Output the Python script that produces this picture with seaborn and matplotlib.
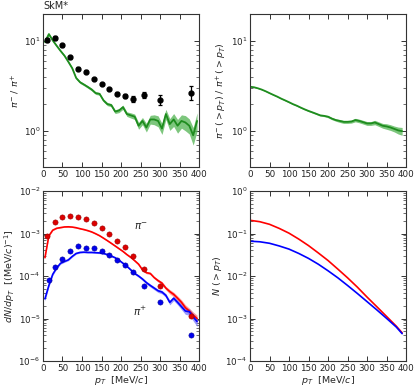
import numpy as np
import matplotlib
matplotlib.use("Agg")
import matplotlib.pyplot as plt
from matplotlib.ticker import LogLocator, NullFormatter
import seaborn as sns

# ---- data ----
# measured pi-/pi+ ratio
data_pt = [10, 30, 50, 70, 90, 110, 130, 150, 170, 190, 210, 230, 260, 300, 380]
data_ratio = [10.3, 10.9, 9.05, 6.63, 4.95, 4.59, 3.79, 3.34, 2.94, 2.62, 2.47, 2.27, 2.51, 2.23, 2.69]
data_ratio_err = [0.6, 0.5, 0.35, 0.25, 0.2, 0.15, 0.12, 0.12, 0.1, 0.1, 0.12, 0.18, 0.2, 0.3, 0.45]

# simulated pi-/pi+ ratio (10 MeV/c bins)
sim_pt = [5, 15, 25, 35, 45, 55, 65, 75, 85, 95, 105, 115, 125, 135, 145, 155, 165, 175, 185, 195,
          205, 215, 225, 235, 245, 255, 265, 275, 285, 295, 305, 315, 325, 335, 345, 355, 365, 375, 385, 395]
sim_ratio = [9.8, 12.0, 10.2, 8.9, 7.8, 6.9, 5.9, 5.0, 3.9, 3.5, 3.3, 3.1, 2.9, 2.65, 2.6, 2.2, 2.0, 1.95, 1.65, 1.7,
             1.85, 1.55, 1.5, 1.45, 1.15, 1.3, 1.1, 1.35, 1.35, 1.3, 1.07, 1.55, 1.2, 1.35, 1.15, 1.3, 1.25, 1.15, 0.9, 1.3]
sim_ratio_err = [0.3, 0.4, 0.3, 0.25, 0.22, 0.2, 0.17, 0.15, 0.12, 0.11, 0.1, 0.1, 0.1, 0.09, 0.09, 0.08, 0.08, 0.08, 0.08, 0.09,
                 0.1, 0.09, 0.1, 0.1, 0.1, 0.12, 0.12, 0.15, 0.17, 0.18, 0.15, 0.2, 0.18, 0.22, 0.2, 0.22, 0.24, 0.22, 0.2, 0.3]

# cumulative ratio pi-(>pT)/pi+(>pT)
cum_pt = list(range(0, 400, 10))
cum_ratio = [3.12, 3.08, 3.0, 2.9, 2.78, 2.65, 2.53, 2.42, 2.3, 2.2, 2.1, 2.0, 1.92, 1.83, 1.75, 1.68, 1.62, 1.56, 1.5, 1.48,
             1.45, 1.38, 1.33, 1.3, 1.27, 1.27, 1.28, 1.33, 1.3, 1.26, 1.22, 1.22, 1.25, 1.2, 1.15, 1.13, 1.1, 1.06, 1.02, 1.0]
cum_ratio_err = [0.03, 0.03, 0.03, 0.03, 0.03, 0.03, 0.03, 0.03, 0.03, 0.03, 0.03, 0.03, 0.03, 0.03, 0.03, 0.03, 0.03, 0.03, 0.03, 0.03,
                 0.04, 0.04, 0.04, 0.05, 0.05, 0.05, 0.05, 0.06, 0.06, 0.06, 0.06, 0.06, 0.07, 0.07, 0.07, 0.08, 0.08, 0.08, 0.09, 0.1]

# measured spectra dN/dpT
pim_data_pt = [10, 30, 50, 70, 90, 110, 130, 150, 170, 190, 210, 230, 260, 300, 380]
pim_data = [8.8e-4, 1.86e-3, 2.47e-3, 2.65e-3, 2.42e-3, 2.14e-3, 1.79e-3, 1.38e-3, 9.6e-4, 6.5e-4, 4.7e-4, 2.9e-4, 1.5e-4, 5.9e-5, 1.15e-5]
pip_data_pt = [15, 30, 50, 70, 90, 110, 130, 150, 170, 190, 210, 230, 260, 300, 380]
pip_data = [8.1e-5, 1.64e-4, 2.55e-4, 3.78e-4, 5.0e-4, 4.5e-4, 4.6e-4, 3.85e-4, 3.17e-4, 2.43e-4, 1.86e-4, 1.22e-4, 5.9e-5, 2.5e-5, 4.1e-6]

# simulated spectra dN/dpT
pim_sim = [2.7e-4, 8.8e-4, 1.2e-3, 1.33e-3, 1.38e-3, 1.43e-3, 1.44e-3, 1.42e-3, 1.37e-3, 1.3e-3, 1.24e-3, 1.17e-3, 1.09e-3, 9.9e-4,
           8.9e-4, 7.8e-4, 6.8e-4, 5.9e-4, 5.1e-4, 4.4e-4, 3.8e-4, 3.2e-4, 2.75e-4, 2.3e-4, 1.9e-4, 1.4e-4, 1.2e-4, 1.15e-4,
           9.2e-5, 7.8e-5, 6.8e-5, 5.2e-5, 4.3e-5, 3.7e-5, 3.0e-5, 2.4e-5, 1.8e-5, 1.5e-5, 1.2e-5, 1.0e-5]
pip_sim = [2.9e-5, 6.0e-5, 1.1e-4, 1.55e-4, 2.0e-4, 2.2e-4, 2.4e-4, 2.9e-4, 3.4e-4, 3.6e-4, 3.65e-4, 3.6e-4, 3.6e-4, 3.55e-4,
           3.5e-4, 3.4e-4, 3.2e-4, 2.95e-4, 2.7e-4, 2.35e-4, 2.0e-4, 1.7e-4, 1.4e-4, 1.15e-4, 1.0e-4, 8.5e-5, 7.0e-5, 6.0e-5,
           5.2e-5, 4.5e-5, 4.2e-5, 3.5e-5, 2.4e-5, 3.0e-5, 2.4e-5, 1.9e-5, 1.5e-5, 1.45e-5, 1.1e-5, 8.5e-6]
pim_sim_err = [1e-5, 3e-5, 3e-5, 3e-5, 3e-5, 3e-5, 3e-5, 3e-5, 3e-5, 3e-5, 3e-5, 3e-5, 3e-5, 3e-5,
               2.5e-5, 2.5e-5, 2e-5, 2e-5, 2e-5, 1.5e-5, 1.5e-5, 1.3e-5, 1.2e-5, 1.1e-5, 1e-5, 8e-6, 7e-6, 7e-6,
               6e-6, 6e-6, 6e-6, 5e-6, 5e-6, 4.5e-6, 4e-6, 3.5e-6, 3e-6, 2.5e-6, 2.2e-6, 2e-6]
pip_sim_err = [3e-6, 5e-6, 7e-6, 8e-6, 1e-5, 1e-5, 1e-5, 1.2e-5, 1.3e-5, 1.4e-5, 1.4e-5, 1.4e-5, 1.4e-5, 1.4e-5,
               1.4e-5, 1.4e-5, 1.3e-5, 1.3e-5, 1.2e-5, 1.1e-5, 1.0e-5, 9e-6, 8e-6, 7e-6, 6.5e-6, 6e-6, 5.5e-6, 5e-6,
               4.5e-6, 4e-6, 4e-6, 3.5e-6, 3e-6, 3.5e-6, 3e-6, 2.8e-6, 2.5e-6, 2.5e-6, 2.2e-6, 2e-6]

# cumulative spectra N(>pT)
ncum_pt = [0, 25, 50, 75, 100, 125, 150, 175, 200, 225, 250, 275, 300, 325, 350, 375, 390]
pim_cum = [0.205, 0.19, 0.165, 0.132, 0.102, 0.074, 0.052, 0.035, 0.0232, 0.0146, 0.0091, 0.0055, 0.0032, 0.0019, 0.00112, 0.00066, 0.00046]
pip_cum = [0.066, 0.064, 0.059, 0.051, 0.043, 0.034, 0.026, 0.019, 0.0133, 0.0091, 0.0060, 0.0039, 0.0025, 0.0016, 0.00101, 0.00063, 0.00044]

# ---- style ----
sns.set_style("ticks")
plt.rcParams['font.family'] = ['DejaVu Sans']
plt.rcParams.update({
    'xtick.direction': 'in', 'ytick.direction': 'in',
    'xtick.top': True, 'ytick.right': True,
    'xtick.labelsize': 6.3, 'ytick.labelsize': 6.3,
    'axes.labelsize': 6.8, 'axes.linewidth': 0.8,
    'axes.edgecolor': '#333333',
    'xtick.major.size': 3.5, 'ytick.major.size': 3.5,
    'mathtext.fontset': 'dejavusans',
})

green = '#1e8c1e'
green_band = '#5cb85c'

fig = plt.figure(figsize=(4.15, 3.88), dpi=100)
ax_tl = fig.add_axes([0.1036, 0.5696, 0.376, 0.394])
ax_tr = fig.add_axes([0.6024, 0.5696, 0.376, 0.394])
ax_bl = fig.add_axes([0.1036, 0.0696, 0.376, 0.438])
ax_br = fig.add_axes([0.6024, 0.0696, 0.376, 0.438])

# top-left: differential ratio
sim_lo = np.array(sim_ratio) - np.array(sim_ratio_err)
sim_hi = np.array(sim_ratio) + np.array(sim_ratio_err)
ax_tl.fill_between(sim_pt, sim_lo, sim_hi, color=green_band, alpha=0.8, lw=0)
sns.lineplot(x=sim_pt, y=sim_ratio, ax=ax_tl, color=green, lw=1.3)
ax_tl.errorbar(data_pt, data_ratio, yerr=data_ratio_err, fmt='o', color='black',
               ms=3.5, elinewidth=0.9, capsize=1.5, capthick=0.9)
ax_tl.set_yscale('log')
ax_tl.set_ylim(0.4, 20)
ax_tl.set_ylabel(r'$\pi^{-}$ / $\pi^{+}$')
ax_tl.text(0.0, 1.02, 'SkM*', transform=ax_tl.transAxes, fontsize=7, ha='left', va='bottom')

# top-right: cumulative ratio
cum_lo = np.array(cum_ratio) - np.array(cum_ratio_err)
cum_hi = np.array(cum_ratio) + np.array(cum_ratio_err)
ax_tr.fill_between(cum_pt, cum_lo, cum_hi, color=green_band, alpha=0.8, lw=0)
sns.lineplot(x=cum_pt, y=cum_ratio, ax=ax_tr, color=green, lw=1.3)
ax_tr.set_yscale('log')
ax_tr.set_ylim(0.4, 20)
ax_tr.set_ylabel(r'$\pi^{-}\,(>p_T)$ / $\pi^{+}\,(>p_T)$')

# bottom-left: spectra
pim_lo = np.array(pim_sim) - np.array(pim_sim_err)
pim_hi = np.array(pim_sim) + np.array(pim_sim_err)
pip_lo = np.array(pip_sim) - np.array(pip_sim_err)
pip_hi = np.array(pip_sim) + np.array(pip_sim_err)
ax_bl.fill_between(sim_pt, pim_lo, pim_hi, color='#ff7070', alpha=0.7, lw=0)
ax_bl.fill_between(sim_pt, pip_lo, pip_hi, color='#7070ff', alpha=0.7, lw=0)
sns.lineplot(x=sim_pt, y=pim_sim, ax=ax_bl, color='red', lw=1.2)
sns.lineplot(x=sim_pt, y=pip_sim, ax=ax_bl, color='blue', lw=1.2)
sns.scatterplot(x=pim_data_pt, y=pim_data, ax=ax_bl, color='#dd0000', edgecolor='#990000',
                s=14, linewidth=0.4, zorder=5)
sns.scatterplot(x=pip_data_pt, y=pip_data, ax=ax_bl, color='#0000ee', edgecolor='#000099',
                s=14, linewidth=0.4, zorder=5)
ax_bl.set_yscale('log')
ax_bl.set_ylim(1e-6, 1e-2)
ax_bl.set_ylabel(r'$dN/dp_T$  [(MeV/$c$)$^{-1}$]')
ax_bl.set_xlabel(r'$p_T$  [MeV/$c$]')
ax_bl.text(250, 1.5e-3, r'$\pi^{-}$', fontsize=7.5, ha='center', va='center')
ax_bl.text(250, 1.5e-5, r'$\pi^{+}$', fontsize=7.5, ha='center', va='center')

# bottom-right: cumulative spectra
sns.lineplot(x=ncum_pt, y=pim_cum, ax=ax_br, color='red', lw=1.2)
sns.lineplot(x=ncum_pt, y=pip_cum, ax=ax_br, color='blue', lw=1.2)
ax_br.set_yscale('log')
ax_br.set_ylim(1e-4, 1)
ax_br.set_ylabel(r'$N\ (>p_T)$')
ax_br.set_xlabel(r'$p_T$  [MeV/$c$]')

for ax in [ax_tl, ax_tr, ax_bl, ax_br]:
    ax.set_xlim(0, 400)
    ax.set_xticks(range(0, 401, 50))
    ax.yaxis.set_minor_locator(LogLocator(base=10, subs=np.arange(2, 10), numticks=20))
    ax.yaxis.set_minor_formatter(NullFormatter())
    ax.tick_params(which='major', direction='in', top=True, right=True, pad=2, colors='#333333',
                   labelcolor='#222222', length=3.5, width=0.7)
    ax.tick_params(axis='y', which='minor', direction='in', left=True, right=True,
                   length=2, width=0.5, colors='#333333')
    ax.yaxis.labelpad = 1
    ax.xaxis.labelpad = 1

fig.savefig('out.png', dpi=100)
